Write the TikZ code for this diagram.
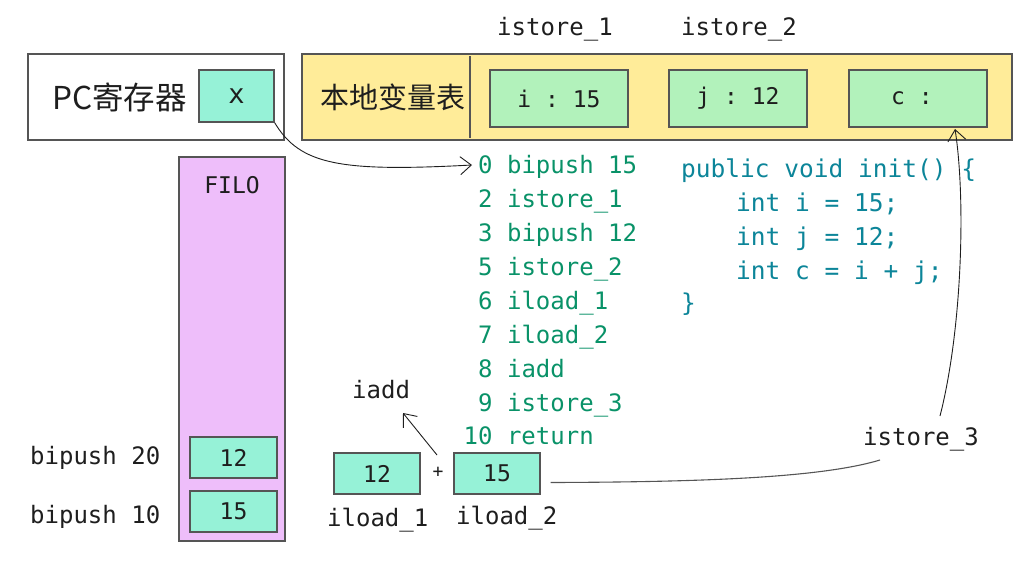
\documentclass[tikz,border=0pt]{standalone}
\usepackage{fontspec}
\setmonofont{DejaVu Sans Mono}
\newfontfamily\cjk{Noto Sans CJK SC}
\usetikzlibrary{arrows.meta}
\definecolor{ink}{HTML}{1E1E1E}
\definecolor{edge}{HTML}{555555}
\definecolor{teal}{HTML}{96F2D7}
\definecolor{lgreen}{HTML}{B2F2BB}
\definecolor{yell}{HTML}{FFEC99}
\definecolor{purp}{HTML}{EEBEFA}
\definecolor{bcode}{HTML}{099268}
\definecolor{jcode}{HTML}{0C8599}
\tikzset{
  box/.style={draw=edge, line width=1.3pt, inner sep=0pt, text=ink, font=\ttfamily\fontsize{23}{26}\selectfont},
  lbl/.style={anchor=base west, inner sep=0pt, text=ink, font=\ttfamily\fontsize{24}{28}\selectfont},
  bc/.style={anchor=base west, inner sep=0pt, text=bcode, font=\ttfamily\fontsize{24}{28}\selectfont},
  jc/.style={anchor=base west, inner sep=0pt, text=jcode, font=\ttfamily\fontsize{24.5}{28}\selectfont},
  conn/.style={draw=ink, line width=0.9pt, -{Straight Barb[length=11pt,width=18pt,line width=0.9pt]}}
}
\begin{document}
\begin{tikzpicture}[x=1pt,y=-1pt]
\useasboundingbox (0,0) rectangle (1030,566);
% PC register
\node[box, fill=white, minimum width=256pt, minimum height=86pt] (pc) at (156,97) {};
\node[anchor=center, inner sep=0pt, text=ink, font=\cjk\fontsize{31.5}{34}\selectfont] (pct) at (119.5,97) {PC寄存器};
\node[box, fill=teal, minimum width=75pt, minimum height=52pt, font=\ttfamily\fontsize{27}{30}\selectfont] (xb) at (236.5,96) {x};
% local variable table
\node[box, fill=yell, minimum width=710pt, minimum height=86pt] (lvt) at (657,97) {};
\coordinate (dvt) at (470,56);
\coordinate (dvb) at (470,138);
\draw[edge, line width=1.3pt] (dvt) -- (dvb);
\node[anchor=center, inner sep=0pt, text=ink, font=\cjk\fontsize{29}{32}\selectfont] (lvtt) at (393,97) {本地变量表};
\node[box, fill=lgreen, minimum width=138pt, minimum height=57pt] (vi) at (559,98.5) {i : 15};
\node[box, fill=lgreen, minimum width=138pt, minimum height=57pt] (vj) at (738,98.5) {j : 12};
\node[box, fill=lgreen, minimum width=138pt, minimum height=57pt] (vc) at (918,98.5) {};
\node[anchor=center, inner sep=0pt, text=ink, font=\ttfamily\fontsize{23}{26}\selectfont] (vct) at (912,98.5) {c :};
\node[lbl] (is1) at (497,35) {istore\_1};
\node[lbl] (is2) at (681,35) {istore\_2};
% FILO stack
\node[box, fill=purp, minimum width=106pt, minimum height=384pt] (filo) at (232,349) {};
\node[anchor=center, inner sep=0pt, text=ink, font=\ttfamily\fontsize{23}{26}\selectfont] (filot) at (232,185) {FILO};
\node[box, fill=teal, minimum width=87pt, minimum height=41pt] (s12) at (233.5,457.5) {12};
\node[box, fill=teal, minimum width=87pt, minimum height=41pt] (s15) at (233.5,511.5) {15};
\node[lbl] (bp20) at (30,464) {bipush 20};
\node[lbl] (bp10) at (30,523) {bipush 10};
% bytecode
\node[bc] (b0) at (478,173) {0 bipush 15};
\node[bc] (b2) at (478,207) {2 istore\_1};
\node[bc] (b3) at (478,241) {3 bipush 12};
\node[bc] (b5) at (478,275) {5 istore\_2};
\node[bc] (b6) at (478,309) {6 iload\_1};
\node[bc] (b7) at (478,343) {7 iload\_2};
\node[bc] (b8) at (478,377) {8 iadd};
\node[bc] (b9) at (478,411) {9 istore\_3};
\node[bc] (b10) at (463.5,444) {10 return};
% java code
\node[jc] (j1) at (681,177) {public void init() \{};
\node[jc] (j2) at (736,211) {int i = 15;};
\node[jc] (j3) at (736,245) {int j = 12;};
\node[jc] (j4) at (736,279) {int c = i + j;};
\node[jc] (j5) at (681,311) {\}};
% operand add
\node[box, fill=teal, minimum width=86pt, minimum height=41pt] (a12) at (377,473.5) {12};
\node[box, fill=teal, minimum width=86pt, minimum height=41pt] (a15) at (497,473.5) {15};
\node[anchor=center, inner sep=0pt, text=ink, font=\ttfamily\fontsize{18}{20}\selectfont] (plus) at (438,472) {+};
\node[lbl] (il1) at (327,526) {iload\_1};
\node[lbl] (il2) at (456,524) {iload\_2};
\node[lbl] (iadd) at (352,398) {iadd};
\node[lbl] (ist3) at (863,445) {istore\_3};
% connectors
\coordinate (pcto) at (472,165);
\draw[conn] (xb.south east) .. controls (300,165) and (340,172) .. (pcto);
\coordinate (iaddfrom) at (437,455);
\coordinate (iaddto) at (403,413);
\draw[conn] (iaddfrom) -- (iaddto);
\coordinate (st3a) at (880,460);
\coordinate (st3b) at (940,416);
\coordinate (cto) at (955,129);
\draw[draw=edge, line width=1.1pt] (a15.east) ++(10,9) .. controls (700,482) and (820,478) .. (st3a);
\draw[conn] (st3b) .. controls (962,330) and (966,200) .. (cto);
\end{tikzpicture}
\end{document}
